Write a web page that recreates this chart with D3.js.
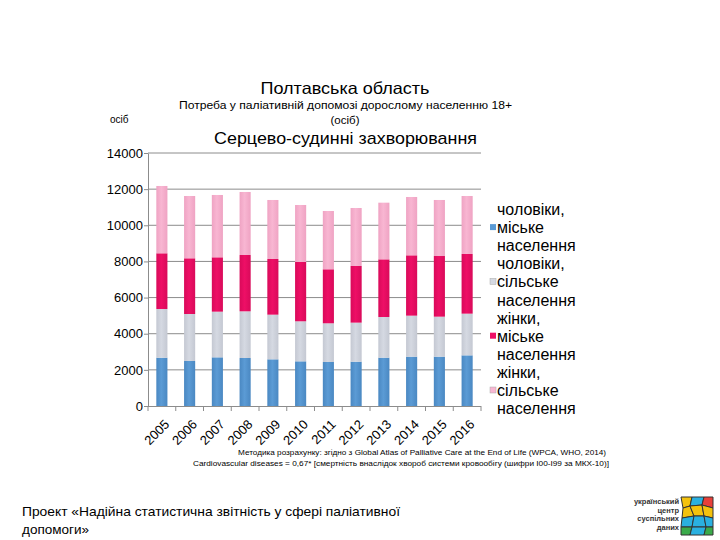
<!DOCTYPE html>
<html><head><meta charset="utf-8">
<script src="https://cdn.jsdelivr.net/npm/d3@7"></script>
<style>body{margin:0;background:#fff}svg{display:block;font-family:"Liberation Sans",Arial,sans-serif}</style>
</head><body><svg id="c" width="720" height="540"></svg>
<script>
const years = ["2005","2006","2007","2008","2009","2010","2011","2012","2013","2014","2015","2016"];
const menUrban   = [2673,2490,2693,2656,2583,2472,2435,2453,2675,2730,2730,2803];
const menRural   = [2695,2601,2527,2583,2471,2215,2141,2160,2250,2269,2213,2307];
const womenUrban = [3082,3082,3008,3117,3081,3282,2989,3135,3191,3339,3357,3302];
const womenRural = [3725,3448,3449,3487,3265,3154,3226,3209,3135,3228,3100,3209];
const seriesNames = ["чоловіки, міське населення","чоловіки, сільське населення","жінки, міське населення","жінки, сільське населення"];
const yTicks = [0,2000,4000,6000,8000,10000,12000,14000];

const svg = d3.select("#c");
const colors = ["#5b9bd5","#d5d9e2","#ee0f66","#f8b6d2"];
const colorsDark = ["#4a88c2","#c4c8d2","#d90a5a","#efa3c3"];
const defs = svg.append("defs");
colors.forEach((c,i)=>{
  const g = defs.append("linearGradient").attr("id","g"+i).attr("x1","0").attr("x2","1").attr("y1","0").attr("y2","0");
  g.append("stop").attr("offset","0").attr("stop-color",colorsDark[i]);
  g.append("stop").attr("offset","0.45").attr("stop-color",c);
  g.append("stop").attr("offset","1").attr("stop-color",colorsDark[i]);
});

const x = d3.scaleBand().domain(years).range([148,481]).paddingInner(0.6).paddingOuter(0.3);
const y = d3.scaleLinear().domain([0,14000]).range([406,153]);

// gridlines
svg.append("g").selectAll("line").data(yTicks.filter(d=>d>0)).join("line")
  .attr("x1",148).attr("x2",481).attr("y1",d=>y(d)).attr("y2",d=>y(d))
  .attr("stroke","#8c8c8c").attr("stroke-width",1);

// stacked data
const table = years.map((yr,i)=>({year:yr, s0:menUrban[i], s1:menRural[i], s2:womenUrban[i], s3:womenRural[i]}));
const stack = d3.stack().keys(["s0","s1","s2","s3"])(table);
svg.append("g").selectAll("g").data(stack).join("g")
  .attr("fill",(d,i)=>`url(#g${i})`)
  .selectAll("rect").data(d=>d).join("rect")
  .attr("x",d=>x(d.data.year)).attr("width",x.bandwidth())
  .attr("y",d=>y(d[1])).attr("height",d=>y(d[0])-y(d[1]));

// y axis
const yAxis = d3.axisLeft(y).tickValues(yTicks).tickSize(4).tickSizeOuter(0).tickFormat(d3.format("d"));
const ya = svg.append("g").attr("transform","translate(148,0)").call(yAxis);
ya.select(".domain").attr("stroke","#8c8c8c");
ya.selectAll(".tick line").attr("stroke","#8c8c8c");
ya.selectAll(".tick text").attr("font-size",13).attr("fill","#000").attr("x",-5).attr("font-family","Liberation Sans, Arial, sans-serif");

// x axis line and ticks at boundaries
svg.append("line").attr("x1",148).attr("x2",481).attr("y1",406.5).attr("y2",406.5).attr("stroke","#8c8c8c");
const step = x.step();
svg.append("g").selectAll("line").data(d3.range(years.length+1)).join("line")
  .attr("x1",d=>148+d*step).attr("x2",d=>148+d*step).attr("y1",406).attr("y2",411)
  .attr("stroke","#8c8c8c");
svg.append("g").selectAll("text").data(years).join("text")
  .attr("transform",d=>`translate(${x(d)+x.bandwidth()/2+5},${422}) rotate(-45)`)
  .attr("text-anchor","end").attr("font-size",13).attr("dy","0.35em").text(d=>d);

// titles
svg.append("text").attr("x",345).attr("y",94).attr("text-anchor","middle").attr("font-size",16.5).attr("textLength",169).attr("lengthAdjust","spacingAndGlyphs").text("Полтавська область");
svg.append("text").attr("x",345.5).attr("y",109).attr("text-anchor","middle").attr("font-size",11.5).attr("textLength",333).attr("lengthAdjust","spacingAndGlyphs").text("Потреба у паліативній допомозі дорослому населенню 18+");
svg.append("text").attr("x",345).attr("y",124).attr("text-anchor","middle").attr("font-size",11.5).text("(осіб)");
svg.append("text").attr("x",110).attr("y",123).attr("font-size",10).text("осіб");
svg.append("text").attr("x",345.5).attr("y",144).attr("text-anchor","middle").attr("font-size",17).attr("textLength",263).attr("lengthAdjust","spacingAndGlyphs").text("Серцево-судинні захворювання");

// legend
const legendLines = [
  [seriesNames[0].split(", ")[0]+",", null],
  ["міське", 0],["населення", null],
  [seriesNames[1].split(", ")[0]+",", null],
  ["сільське", 1],["населення", null],
  [seriesNames[2].split(", ")[0]+",", null],
  ["міське", 2],["населення", null],
  [seriesNames[3].split(", ")[0]+",", null],
  ["сільське", 3],["населення", null]
];
const lg = svg.append("g");
legendLines.forEach((l,i)=>{
  const yy = 215 + i*18.1;
  lg.append("text").attr("x",497).attr("y",yy).attr("font-size",16).text(l[0]);
  if(l[1]!==null){
    lg.append("rect").attr("x",490).attr("y",yy-9).attr("width",6).attr("height",6)
      .attr("fill",colors[l[1]]).attr("stroke",l[1]===1||l[1]===3?"#aaa":"none").attr("stroke-width",0.5);
  }
});

// footnote
svg.append("text").attr("x",606).attr("y",455).attr("text-anchor","end").attr("font-size",8).attr("textLength",368).attr("lengthAdjust","spacingAndGlyphs")
  .text("Методика розрахунку: згідно з Global Atlas of Palliative Care at the End of Life (WPCA, WHO, 2014)");
svg.append("text").attr("x",609).attr("y",466).attr("text-anchor","end").attr("font-size",8).attr("textLength",416).attr("lengthAdjust","spacingAndGlyphs")
  .text("Cardiovascular diseases = 0,67* [смертність внаслідок хвороб системи кровообігу (шифри I00-I99 за МКХ-10)]");

// bottom project text
svg.append("text").attr("x",22).attr("y",516).attr("font-size",13.5).attr("textLength",378).attr("lengthAdjust","spacingAndGlyphs").text("Проект «Надійна статистична звітність у сфері паліативної");
svg.append("text").attr("x",22).attr("y",534).attr("font-size",13.5).text("допомоги»");

// logo
const logo = svg.append("g");
["український","центр","суспільних","даних"].forEach((t,i)=>{
  logo.append("text").attr("x",679).attr("y",504+i*8.6).attr("text-anchor","end").attr("font-size",7.5).attr("font-weight","bold").attr("fill","#333").text(t);
});
const polys = [
  {p:"681,497 692,497 690,506 683,508",c:"#f4c20d"},
  {p:"692,497 704,497 702,505 690,506",c:"#2ab0e0"},
  {p:"704,497 713,497 713,508 702,505",c:"#e8403a"},
  {p:"683,508 690,506 694,516 682,518",c:"#f4c20d"},
  {p:"690,506 702,505 704,516 694,516",c:"#f4c20d"},
  {p:"702,505 713,508 713,518 704,516",c:"#f4c20d"},
  {p:"682,518 694,516 692,527 681,527",c:"#2ab0e0"},
  {p:"694,516 704,516 706,527 692,527",c:"#2ab0e0"},
  {p:"704,516 713,518 713,527 706,527",c:"#2ab0e0"},
  {p:"681,527 692,527 690,535 681,535",c:"#3aaa4a"},
  {p:"692,527 706,527 704,535 690,535",c:"#2ab0e0"},
  {p:"706,527 713,527 713,535 704,535",c:"#3aaa4a"}
];
logo.selectAll("polygon").data(polys).join("polygon").attr("points",d=>d.p).attr("fill",d=>d.c).attr("stroke","#333").attr("stroke-width",1);
</script></body></html>
